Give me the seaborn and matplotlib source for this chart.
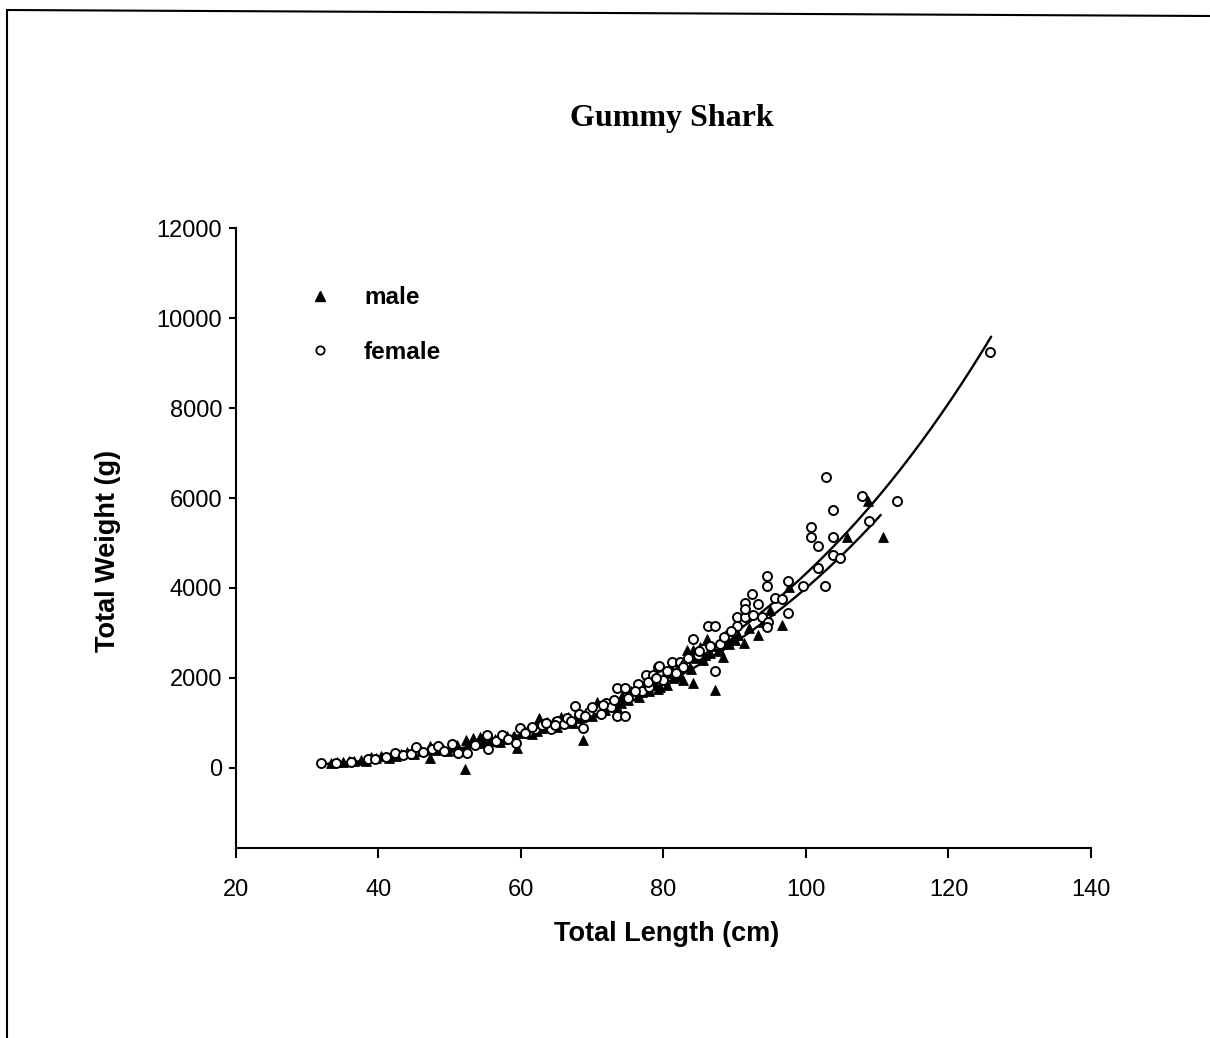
import numpy as np
import pandas as pd
import matplotlib
matplotlib.use("Agg")
import matplotlib.pyplot as plt
from matplotlib.lines import Line2D
import seaborn as sns

# ---------------- data ----------------
male_length = [33.4, 34.2, 35.0, 35.8, 36.6, 37.5, 38.2, 39.0, 39.7, 40.4, 41.5, 42.5, 43.2, 44.0,
               45.0, 46.0, 47.2, 47.2, 48.0, 49.0, 49.8, 50.5, 51.0, 52.1, 52.3, 53.3, 54.3, 54.8,
               55.5, 56.3, 57.0, 58.0, 58.9, 59.4, 60.2, 61.0, 61.5, 62.5, 63.0, 63.6, 64.5, 65.0,
               65.6, 66.6, 67.3, 68.0, 68.7, 69.2, 70.0, 70.7, 71.3, 72.0, 72.8, 73.5, 74.2, 75.0,
               75.8, 76.5, 77.2, 78.0, 78.8, 79.5, 80.2, 80.8, 81.5, 82.0, 82.7, 83.3, 84.1, 84.1,
               85.1, 85.5, 86.1, 86.5, 87.2, 87.8, 88.4, 89.0, 89.6, 90.5, 91.3, 92.0, 93.3, 94.0,
               95.0, 96.6, 97.6, 105.8, 108.7, 110.8,
               56.0, 57.5, 59.0, 60.5, 61.8, 62.2, 63.2, 64.0, 64.8, 66.0, 67.0, 67.8, 68.5, 69.5,
               70.3, 71.0, 71.8, 72.5, 73.2, 74.0, 74.8, 75.4, 76.2, 77.0, 77.8, 78.5, 79.2, 80.0,
               80.5, 81.2, 82.3, 83.0, 83.8, 84.5, 85.8, 86.8, 88.0, 89.2, 90.0]
male_weight = [120, 135, 140, 150, 160, 170, 165, 250, 220, 270, 230, 260, 300, 360,
               310, 380, 490, 220, 400, 430, 380, 470, 520, -20, 620, 660, 690, 560,
               600, 640, 580, 700, 690, 440, 780, 850, 760, 1110, 880, 1020, 1020, 900,
               1130, 1130, 1000, 1100, 620, 1200, 1150, 1470, 1300, 1380, 1450, 1350, 1600, 1500,
               1650, 1580, 1750, 1700, 1850, 1800, 1950, 2100, 2000, 2250, 1960, 2620, 2620, 1890,
               2690, 2400, 2870, 2550, 1730, 2650, 2470, 2800, 2900, 2950, 2780, 3100, 2950, 3250,
               3500, 3180, 4020, 5130, 5930, 5130,
               610, 650, 720, 800, 880, 820, 950, 900, 980, 1060, 1050, 1180, 1130, 1280,
               1250, 1350, 1280, 1420, 1500, 1450, 1560, 1700, 1620, 1680, 1800, 1900, 1750, 2000,
               1850, 2150, 2050, 2300, 2200, 2450, 2500, 2700, 2600, 2750, 2850]

female_length = [32.0, 34.0, 36.2, 38.5, 39.5, 41.1, 42.3, 43.5, 44.5, 45.3, 46.3, 47.5, 48.3, 49.2,
                 50.3, 51.2, 52.4, 53.5, 55.2, 55.4, 56.5, 57.4, 58.2, 59.3, 59.9, 61.0, 62.0, 63.0,
                 64.2, 65.0, 66.0, 67.6, 68.7, 68.2, 69.5, 70.5, 71.2, 72.0, 72.6, 73.5, 74.6, 73.5,
                 74.6, 75.5, 76.4, 77.0, 77.5, 78.5, 78.0, 79.2, 79.4, 80.0, 81.2, 82.3, 81.8, 83.0,
                 84.1, 84.8, 85.5, 86.2, 87.2, 87.2, 88.0, 89.0, 90.3, 90.3, 91.4, 91.4, 91.4, 92.6,
                 92.4, 93.3, 93.8, 94.5, 94.5, 94.7, 94.5, 95.6, 96.6, 97.5, 97.5, 99.6, 100.7, 100.7,
                 101.7, 101.7, 102.7, 102.8, 103.8, 103.8, 103.8, 104.8, 107.9, 108.8, 112.8, 125.8,
                 60.5, 61.5, 63.5, 64.8, 66.5, 67.0, 69.0, 70.0, 71.5, 73.0, 75.0, 76.0, 77.8, 79.0,
                 80.5, 82.8, 83.5, 85.0, 86.5, 88.5, 89.5]
female_weight = [118, 120, 140, 190, 200, 250, 330, 290, 300, 470, 350, 420, 490, 380,
                 530, 330, 330, 520, 730, 420, 600, 730, 650, 550, 890, 800, 870, 950,
                 870, 1050, 980, 1380, 890, 1200, 1250, 1300, 1200, 1450, 1350, 1780, 1780, 1160,
                 1160, 1600, 1870, 1700, 2070, 2070, 1800, 2240, 2270, 1950, 2360, 2360, 2100, 2300,
                 2870, 2500, 2650, 3160, 3160, 2160, 2750, 2950, 3360, 3160, 3360, 3670, 3530, 3400,
                 3870, 3650, 3360, 4270, 4040, 3240, 3130, 3780, 3760, 4160, 3440, 4040, 5360, 5130,
                 4930, 4440, 4040, 6470, 5730, 5130, 4730, 4670, 6040, 5490, 5930, 9240,
                 780, 900, 1000, 950, 1100, 1050, 1150, 1350, 1400, 1500, 1550, 1700, 1900, 2000,
                 2150, 2250, 2450, 2600, 2700, 2900, 3050]

# fitted power curves W = a * (L/80)^b (parameters)
female_fit = {"a": 2000.0, "b": 3.45, "lmin": 32.0, "lmax": 126.0}
male_fit = {"a": 1863.0, "b": 3.42, "lmin": 33.0, "lmax": 110.5}

x_ticks = [20, 40, 60, 80, 100, 120, 140]
y_ticks = [0, 2000, 4000, 6000, 8000, 10000, 12000]

# ---------------- figure ----------------
sns.set_style("ticks")
plt.rcParams["font.family"] = ["Liberation Sans", "DejaVu Sans"]
plt.rcParams["text.color"] = "black"
plt.rcParams["axes.labelcolor"] = "black"
plt.rcParams["xtick.color"] = "black"
plt.rcParams["ytick.color"] = "black"

fig = plt.figure(figsize=(12.10, 10.38), dpi=100)
ax = fig.add_axes([0.195, 0.183, 0.7066, 0.5973])

dm = pd.DataFrame({"L": male_length, "W": male_weight})
dfem = pd.DataFrame({"L": female_length, "W": female_weight})

def curve(p):
    L = np.linspace(p["lmin"], p["lmax"], 200)
    return pd.DataFrame({"L": L, "W": p["a"] * (L / 80.0) ** p["b"]})

sns.lineplot(data=curve(female_fit), x="L", y="W", ax=ax, color="black", lw=1.7, legend=False, zorder=3)
sns.lineplot(data=curve(male_fit), x="L", y="W", ax=ax, color="black", lw=1.7, legend=False, zorder=3)

sns.scatterplot(data=dm, x="L", y="W", ax=ax, marker="^", s=50, color="black",
                edgecolor="black", linewidth=0.6, zorder=4, legend=False)
sns.scatterplot(data=dfem, x="L", y="W", ax=ax, marker="o", s=42, facecolor="white",
                edgecolor="black", linewidth=1.4, zorder=4, legend=False)

ax.set_xlim(20, 140)
ax.set_ylim(-1780, 12000)
ax.set_xticks(x_ticks)
ax.set_yticks(y_ticks)
ax.set_xticklabels([str(t) for t in x_ticks])
ax.set_yticklabels([str(t) for t in y_ticks])
ax.tick_params(axis="x", length=7, width=1.5, pad=15, labelsize=17, colors="black")
ax.tick_params(axis="y", length=5, width=1.5, pad=5, labelsize=17, colors="black")
sns.despine(ax=ax)
for s in ["left", "bottom"]:
    ax.spines[s].set_linewidth(1.5)
    ax.spines[s].set_color("black")

ax.set_xlabel("Total Length (cm)", fontsize=19.5, fontweight="bold", color="black")
ax.set_ylabel("Total Weight (g)", fontsize=19.5, fontweight="bold", color="black")
ax.xaxis.set_label_coords(0.504, -0.118)
ax.yaxis.set_label_coords(-0.134, 0.479)

handles = [
    Line2D([], [], marker="^", linestyle="none", markersize=7, color="black", label="male"),
    Line2D([], [], marker="o", linestyle="none", markersize=6, markerfacecolor="white",
           markeredgecolor="black", markeredgewidth=1.3, label="female"),
]
leg = ax.legend(handles=handles, loc="upper left", bbox_to_anchor=(0.073, 0.922), frameon=False,
                handletextpad=1.3, labelspacing=1.3, borderaxespad=0, handlelength=1.0,
                prop={"family": "Liberation Sans", "weight": "bold", "size": 17.5})
for t in leg.get_texts():
    t.set_color("black")

fig.text(0.555, 0.886, "Gummy Shark", ha="center", va="center", color="black",
         fontsize=23, fontweight="bold", family=["Liberation Serif", "DejaVu Serif"])

# page frame lines from the scan
fig.add_artist(Line2D([7 / 1210, 7 / 1210], [0, 1 - 10 / 1038], transform=fig.transFigure, color="black", lw=1.5))
fig.add_artist(Line2D([7 / 1210, 1.0], [1 - 10 / 1038, 1 - 16 / 1038], transform=fig.transFigure, color="black", lw=1.5))

fig.savefig("out.png", dpi=100, facecolor="white")
